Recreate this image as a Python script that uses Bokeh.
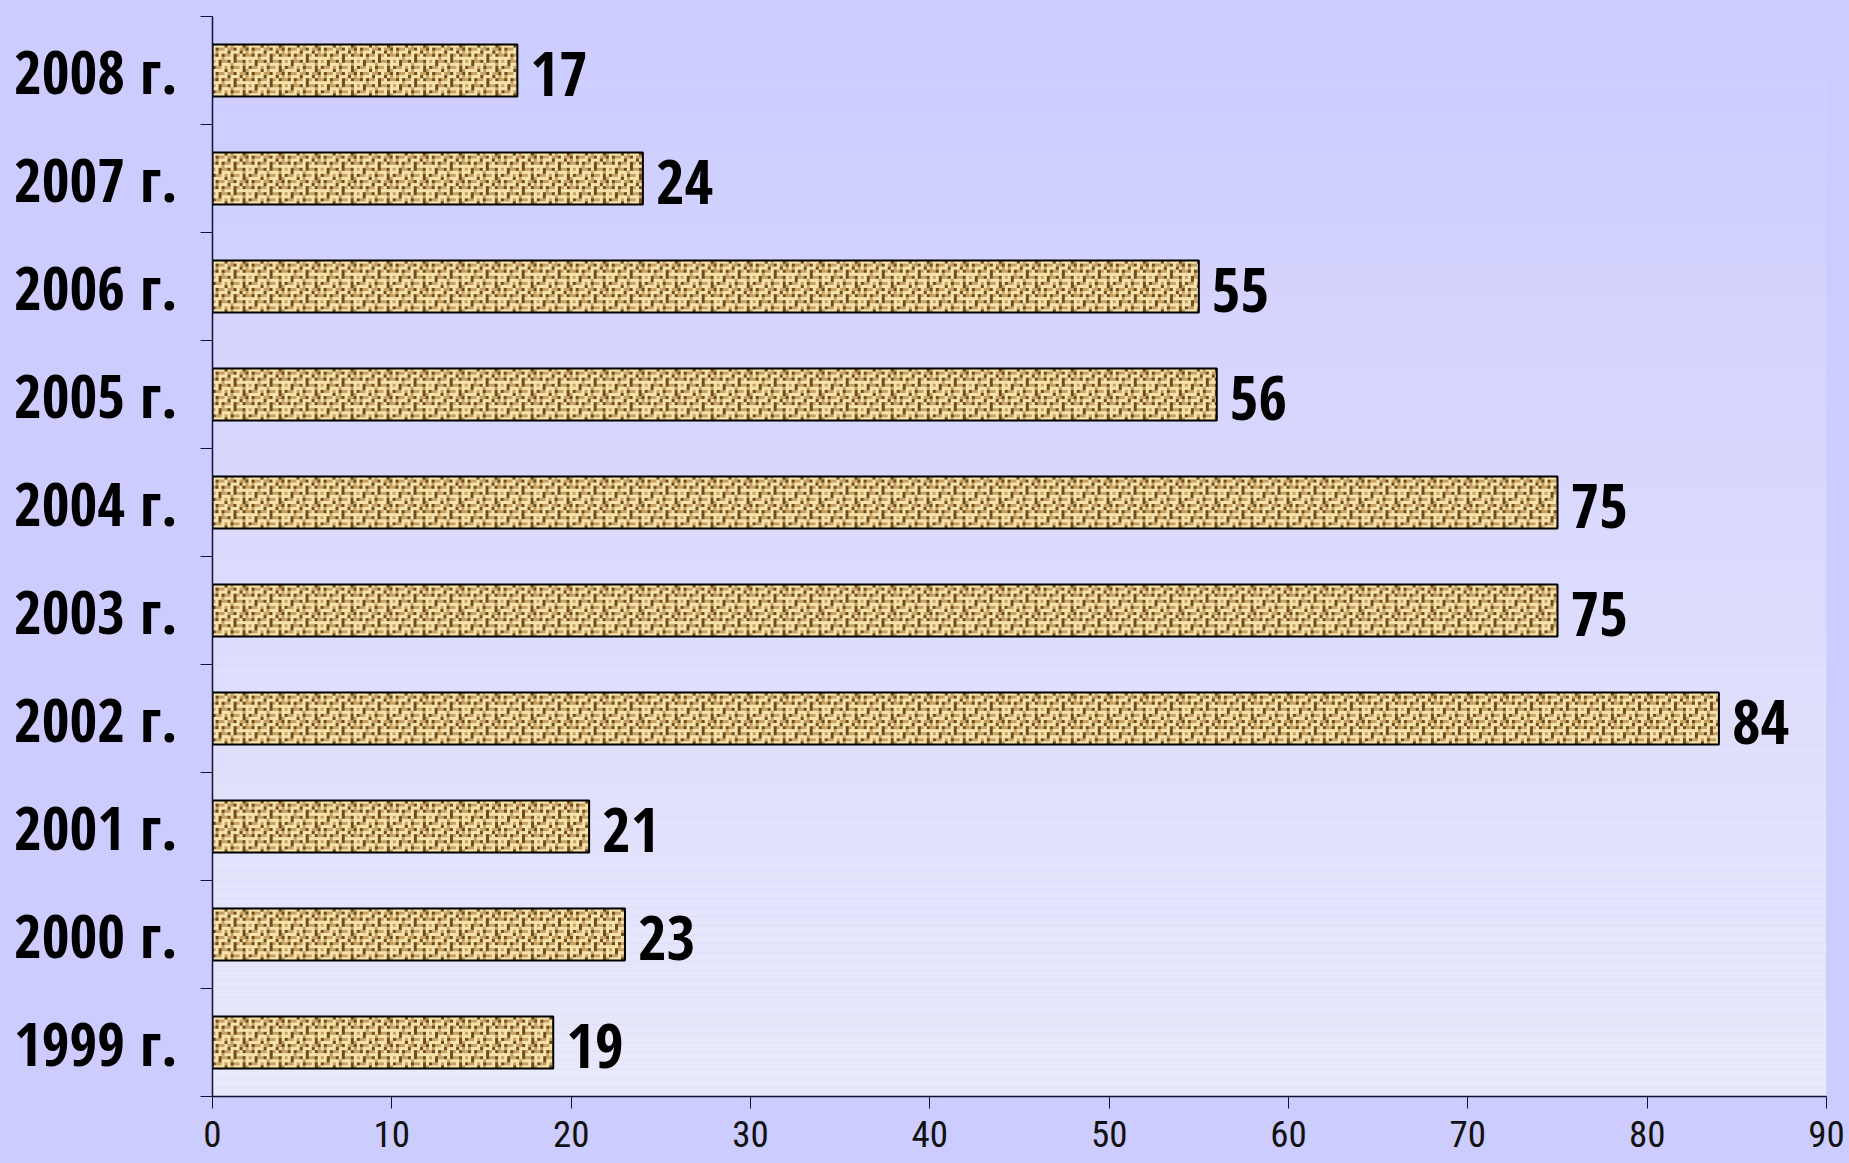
import numpy as np
from bokeh.plotting import figure
from bokeh.models import FixedTicker
from bokeh.core.properties import value
from bokeh.embed import file_html
from bokeh.resources import INLINE

# ---- data ----
categories = ["1999 г.", "2000 г.", "2001 г.", "2002 г.", "2003 г.",
              "2004 г.", "2005 г.", "2006 г.", "2007 г.", "2008 г."]
values = [19, 23, 21, 84, 75, 75, 56, 55, 24, 17]
x_ticks = [0, 10, 20, 30, 40, 50, 60, 70, 80, 90]

# ---- styling ----
FONT = "Open Sans Condensed"
TICK_FONT = "Roboto Condensed"
BG = "#ccccff"
W_FIG, H_FIG = 1849, 1163
B_LEFT, B_RIGHT, B_TOP, B_BOTTOM = 212, 23, 16, 67
X_MAX = 90
BAR_H = 0.48

# woven texture tile (decoration only)
PAL = {"L": (246, 226, 170), "M": (200, 162, 100), "D": (110, 78, 32)}
cells = ["LLLLDLMLLLDM",
         "DMMLMLDMMLDL",
         "LLDLLLMLLLML",
         "MLDMMDLDMMDL",
         "LLLMLLLDLLLL",
         "MDLDMMLDMLDM",
         "LMLLLDLLLDLM",
         "LDMMLMMDLMMD"]
CELL = 3
tile_rgb = np.array([[PAL[ch] for ch in r] for r in cells], dtype=np.uint8)
tile_rgb = np.repeat(np.repeat(tile_rgb, CELL, axis=0), CELL, axis=1)

ypos = [i + 0.5 for i in range(len(categories))]

p = figure(width=W_FIG, height=H_FIG, output_backend="svg", toolbar_location=None,
           x_range=(0, X_MAX), y_range=(0, len(categories)),
           min_border_left=B_LEFT, min_border_right=B_RIGHT,
           min_border_top=B_TOP, min_border_bottom=B_BOTTOM)
p.border_fill_color = BG
p.background_fill_color = BG
p.outline_line_color = None
p.grid.visible = False

# gradient panel (decoration)
n = 120
tops, bots, cols = [], [], []
c_top = (204, 204, 255)
c_bot = (233, 233, 251)
for k in range(n):
    f = k / (n - 1)
    bots.append(len(categories) * k / n)
    tops.append(len(categories) * (k + 1) / n + 0.001)
    c = tuple(int(round(c_bot[j] + (c_top[j] - c_bot[j]) * f)) for j in range(3))
    cols.append("#%02x%02x%02x" % c)
p.quad(left=0, right=X_MAX, bottom=bots, top=tops, fill_color=cols, line_color=None)

# textured bars: one texture image per bar, placed from the data
px_per_unit = (W_FIG - B_LEFT - B_RIGHT) / X_MAX
px_per_cat = (H_FIG - B_TOP - B_BOTTOM) / len(categories)
imgs = []
for v in values:
    wpx = max(1, int(round(v * px_per_unit)))
    hpx = max(1, int(round(BAR_H * px_per_cat)))
    reps_y = hpx // tile_rgb.shape[0] + 1
    reps_x = wpx // tile_rgb.shape[1] + 1
    t = np.tile(tile_rgb, (reps_y, reps_x, 1))[:hpx, :wpx, :]
    rgba = np.empty((hpx, wpx, 4), dtype=np.uint8)
    rgba[..., :3] = t
    rgba[..., 3] = 255
    imgs.append(rgba.view(dtype=np.uint32).reshape((hpx, wpx)))
p.image_rgba(image=imgs, x=[0] * len(values), y=[y - BAR_H / 2 for y in ypos],
             dw=values, dh=[BAR_H] * len(values))
p.hbar(y=ypos, right=values, left=0, height=BAR_H,
       fill_color=None, line_color="black", line_width=2)

p.text(x=values, y=ypos, text=[str(v) for v in values], x_offset=13, y_offset=3,
       text_font=value(FONT), text_font_style="bold", text_font_size="62px",
       text_baseline="middle", text_align="left", text_color="black")

# y axis: labels at category centres, ticks at category boundaries
yax = p.yaxis[0]
yax.ticker = FixedTicker(ticks=ypos, minor_ticks=list(range(len(categories) + 1)))
yax.major_label_overrides = {y: c for y, c in zip(ypos, categories)}
yax.major_tick_out = 0
yax.major_tick_in = 0
yax.minor_tick_out = 12
yax.minor_tick_in = 0
yax.minor_tick_line_color = "#111133"
yax.axis_line_color = "#111133"
yax.axis_line_width = 1.5
yax.major_label_standoff = 23
yax.major_label_text_font = FONT
yax.major_label_text_font_style = "bold"
yax.major_label_text_font_size = "60px"
yax.major_label_text_color = "black"

# x axis
xax = p.xaxis[0]
xax.ticker = FixedTicker(ticks=x_ticks, minor_ticks=[])
xax.major_tick_out = 12
xax.major_tick_in = 0
xax.major_tick_line_color = "#111133"
xax.axis_line_color = "#111133"
xax.axis_line_width = 1.5
xax.major_label_standoff = 12
xax.major_label_text_font = TICK_FONT
xax.major_label_text_font_style = "normal"
xax.major_label_text_font_size = "37px"
xax.major_label_text_color = "#111111"

html = file_html(p, INLINE)
html = html.replace("</head>", "<style>html, body { background: %s; }</style></head>" % BG, 1)
open("out.html", "w").write(html)
